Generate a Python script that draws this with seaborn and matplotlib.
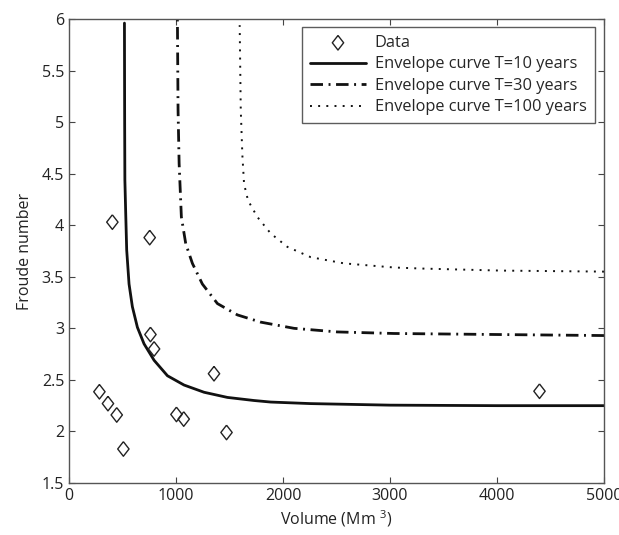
import matplotlib
matplotlib.use("Agg")
import matplotlib.pyplot as plt
import seaborn as sns
import pandas as pd

# Scatter data
volume = [284, 364, 446, 508, 405, 754, 761, 795, 1004, 1072, 1355, 1472, 4397]
froude = [2.385, 2.27, 2.16, 1.83, 4.03, 3.88, 2.94, 2.80, 2.165, 2.12, 2.56, 1.99, 2.39]

# Envelope curves
x_t10 = [518, 520, 522, 530, 539, 561, 592, 639, 701, 795, 920, 1075, 1262, 1480,
         1729, 1885, 2259, 3000, 4000, 5000]
y_t10 = [5.96, 5.0, 4.44, 4.11, 3.76, 3.43, 3.21, 3.01, 2.85, 2.69, 2.54, 2.45, 2.38, 2.33,
         2.30, 2.285, 2.27, 2.255, 2.25, 2.25]

x_t30 = [1013, 1019, 1029, 1050, 1091, 1153, 1246, 1387, 1574, 1792, 2103, 2508, 3037,
         4000, 5000]
y_t30 = [5.99, 5.12, 4.60, 4.08, 3.82, 3.63, 3.43, 3.24, 3.13, 3.06, 3.00, 2.965, 2.95,
         2.94, 2.93]

x_t100 = [1595, 1605, 1620, 1636, 1673, 1760, 1885, 2041, 2259, 2570, 3037, 3287, 4035, 5000]
y_t100 = [5.94, 5.12, 4.68, 4.40, 4.24, 4.08, 3.92, 3.79, 3.69, 3.63, 3.59, 3.58, 3.56, 3.55]

labels = ["Data", "Envelope curve T=10 years", "Envelope curve T=30 years",
          "Envelope curve T=100 years"]
x_ticks = [0, 1000, 2000, 3000, 4000, 5000]
y_ticks = [1.5, 2, 2.5, 3, 3.5, 4, 4.5, 5, 5.5, 6]
y_ticklabels = ["1.5", "2", "2.5", "3", "3.5", "4", "4.5", "5", "5.5", "6"]

sns.set_style("ticks")
plt.rcParams["font.family"] = ["Open Sans", "DejaVu Sans"]
plt.rcParams["mathtext.default"] = "regular"
plt.rcParams["xtick.direction"] = "in"
plt.rcParams["ytick.direction"] = "in"

FS = 11.5
fig = plt.figure(figsize=(6.19, 5.35), dpi=100)
ax = fig.add_axes([0.1115, 0.0972, 0.8643, 0.8673])

df_pts = pd.DataFrame({"x": volume, "y": froude})
diamond = [(0, 1), (0.78, 0), (0, -1), (-0.78, 0), (0, 1)]
sns.scatterplot(data=df_pts, x="x", y="y", marker=diamond, s=110,
                facecolor="none", edgecolor="#222222", linewidth=1.0,
                ax=ax, label=labels[0], zorder=3)

curves = [
    (x_t10, y_t10, labels[1], dict(linestyle="-", linewidth=2.0)),
    (x_t30, y_t30, labels[2], dict(linestyle=(0, (4.5, 2.0, 0.7, 2.0)), linewidth=2.0)),
    (x_t100, y_t100, labels[3], dict(linestyle=(0, (1, 3.2)), linewidth=1.4)),
]
for xs, ys, lab, st in curves:
    d = pd.DataFrame({"x": xs, "y": ys}).iloc[::-1].reset_index(drop=True)
    sns.lineplot(data=d, x="x", y="y", sort=False, estimator=None,
                 color="#111111", ax=ax, label=lab, **st)

ax.set_xlim(0, 5000)
ax.set_ylim(1.5, 6)
ax.set_xticks(x_ticks)
ax.set_yticks(y_ticks)
ax.set_yticklabels(y_ticklabels)
ax.tick_params(axis="both", which="both", top=True, right=True, length=4.5,
               width=0.8, color="#444444", labelsize=FS, labelcolor="#222222")
for sp in ax.spines.values():
    sp.set_color("#555555")
    sp.set_linewidth(1.0)

ax.set_xlabel("Volume (Mm $^{3}$)", fontsize=FS, color="#222222", labelpad=3)
ax.set_ylabel("Froude number", fontsize=FS, color="#222222", labelpad=6)

leg = ax.legend(loc="upper right", bbox_to_anchor=(0.983, 0.983), fontsize=11.8,
                frameon=True, fancybox=False, edgecolor="#333333", handlelength=3.4,
                borderaxespad=0.0, labelspacing=0.33, borderpad=0.5,
                handletextpad=0.55)
leg.get_frame().set_linewidth(1.0)

fig.savefig("out.png", dpi=100)
